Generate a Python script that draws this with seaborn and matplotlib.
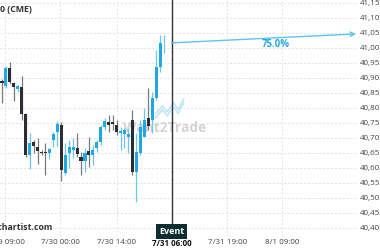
import matplotlib
matplotlib.use("Agg")
import matplotlib.pyplot as plt
import seaborn as sns
import numpy as np
import pandas as pd
from matplotlib.ticker import FuncFormatter

# ---- data ----
opens  = [40895, 40878, 40938, 40888, 40868, 40875, 40785, 40648, 40692, 40675,
          40658, 40658, 40655, 40698, 40725, 40748, 40588, 40655, 40665, 40672,
          40642, 40628, 40662, 40648, 40672, 40692, 40742, 40758, 40758, 40748,
          40722, 40718, 40708, 40765, 40592, 40655, 40708, 40772, 40765, 40838,
          40942, 41020]
highs  = [40902, 40945, 40958, 40892, 40882, 40912, 40788, 40722, 40698, 40705,
          40665, 40688, 40672, 40725, 40762, 40758, 40688, 40698, 40705, 40722,
          40658, 40672, 40708, 40682, 40698, 40748, 40772, 40782, 40782, 40765,
          40742, 40738, 40738, 40798, 40722, 40765, 40805, 40872, 40858, 40998,
          41048, 41048]
lows   = [40822, 40872, 40885, 40828, 40858, 40765, 40642, 40602, 40655, 40618,
          40648, 40582, 40635, 40675, 40678, 40562, 40582, 40605, 40638, 40642,
          40582, 40592, 40608, 40615, 40658, 40682, 40732, 40725, 40732, 40715,
          40665, 40672, 40655, 40582, 40492, 40648, 40708, 40732, 40722, 40832,
          40925, 40988]
closes = [40888, 40938, 40892, 40875, 40878, 40785, 40648, 40688, 40678, 40662,
          40655, 40656, 40668, 40718, 40752, 40598, 40648, 40675, 40675, 40652,
          40628, 40655, 40648, 40665, 40692, 40742, 40762, 40748, 40752, 40725,
          40728, 40732, 40718, 40592, 40658, 40742, 40765, 40745, 40838, 40942,
          41022, 41022]

tick_pos = [0.76, 14.68, 29.1, 42.9, 57.0, 70.9]
tick_labels = ["7/29 09:00", "7/30 00:00", "7/30 14:00", "7/31 06:00", "7/31 19:00", "8/1 09:00"]
event_pos = 42.9
event_label = "Event"
forecast_start = 41022
forecast_end_pos = 89.6
forecast_end = 41052
probability_label = "75.0%"
y_ticks = list(range(40405, 41156, 50))

df = pd.DataFrame({"o": opens, "h": highs, "l": lows, "c": closes})
df["i"] = np.arange(len(df))
df["up"] = df["c"] >= df["o"]

BLUE = "#22a7e6"
BLUE_WICK = "#6cc6ef"
DARK = "#2b2d32"
DARK_WICK = "#7a7a7a"

sns.set_theme(style="white")
plt.rcParams["font.family"] = ["Open Sans", "DejaVu Sans"]

fig = plt.figure(figsize=(3.8, 2.5), dpi=100)
ax = fig.add_axes([0.0, 14/250, 358/380, 236/250])

ax.set_xlim(-0.506, 90.1)
ax.set_ylim(40378.3, 41165)

# grid
for y in y_ticks:
    ax.axhline(y, color="#e2e2e2", lw=0.7, ls=(0, (2, 2)), zorder=0)
for x in tick_pos:
    ax.axvline(x, color="#e2e2e2", lw=0.7, ls=(0, (2, 2)), zorder=0)

# watermark
ax.text(41.3, 40738, "Want2Trade", color="#d4d4d4", fontsize=10, fontweight="bold",
        ha="center", va="center", zorder=1)
ax.plot([38.9, 40.6, 41.8, 43.4, 44.6, 46.0], [40785, 40812, 40792, 40822, 40800, 40835],
        color="#bfe6f7", lw=1.2, zorder=1)
ax.plot([38.9, 40.6, 41.8, 43.4, 44.6, 46.0], [40772, 40799, 40779, 40809, 40787, 40822],
        color="#bfe6f7", lw=1.2, zorder=1)

# candles
for _, r in df.iterrows():
    wc = BLUE_WICK if r["up"] else DARK_WICK
    bc = BLUE if r["up"] else DARK
    ax.vlines(r["i"], r["l"], r["h"], color=wc, lw=0.9, zorder=2)
    bottom = min(r["o"], r["c"])
    height = max(abs(r["c"] - r["o"]), 1.5)
    ax.bar(r["i"], height, bottom=bottom, width=0.78, color=bc, lw=0, zorder=3)

# event line & label
ax.axvline(event_pos, ymin=(236 - 225) / 236, ymax=1, color="#2f3336", lw=1.0, zorder=4)
ax.text(event_pos, 40393, event_label, color="white", fontsize=6.5, fontweight="bold",
        ha="center", va="center", zorder=5,
        bbox=dict(boxstyle="square,pad=0.3", fc="#0c2e33", ec="none"))

# forecast arrow
ax.annotate("", xy=(forecast_end_pos, forecast_end), xytext=(event_pos, forecast_start),
            arrowprops=dict(arrowstyle="->", color="#5ec3ee", lw=1.0,
                            shrinkA=0, shrinkB=0, mutation_scale=8), zorder=5)
ax.text(69.4, 41016, probability_label, color="#2aa9e0", fontsize=7, fontweight="bold",
        ha="center", va="center", zorder=5)

# axes styling
for s in ax.spines.values():
    s.set_visible(False)
ax.yaxis.tick_right()
ax.set_yticks(y_ticks)
ax.yaxis.set_major_formatter(FuncFormatter(lambda v, p: f"{int(v):,}"))
ax.set_xticks(tick_pos)
ax.set_xticklabels(tick_labels)
ax.tick_params(axis="both", length=0, labelsize=5.8, colors="#444444")
ax.tick_params(axis="y", pad=1)
ax.tick_params(axis="x", pad=2)
for lbl in ax.get_xticklabels():
    if lbl.get_text() == "7/31 06:00":
        lbl.set_fontweight("bold")
        lbl.set_color("#111111")

# header / footer texts
fig.text(32/380, 1 - 10/250, "Dow Jones 30 (CME)", ha="right", va="center",
         fontsize=6.3, fontweight="bold", color="#333333")
fig.text(53/380, 1 - 228/250, "autochartist.com", ha="right", va="center",
         fontsize=6.3, fontweight="bold", color="#333333")

fig.savefig("out.png", dpi=100)
